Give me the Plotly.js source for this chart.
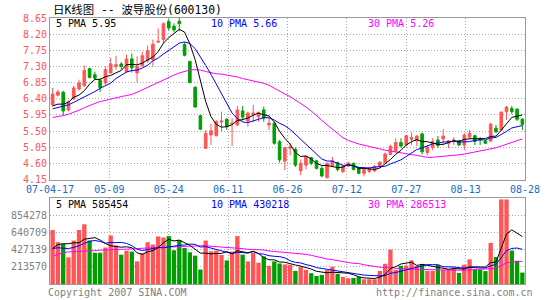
<!DOCTYPE html>
<html>
<head>
<meta charset="utf-8">
<script src="https://cdn.plot.ly/plotly-3.0.1.min.js"></script>
<style>html,body{margin:0;padding:0;background:#fff;}#chart{width:545px;height:300px;}</style>
</head>
<body>
<div id="chart"></div>
<script>
// ---- data ----
const dateTicks = ['07-04-17','05-09','05-24','06-11','06-26','07-12','07-27','08-13','08-28'];

const open  = [6.23,6.50,6.58,6.09,6.40,6.67,6.76,7.24,7.07,6.91,6.84,7.12,7.30,7.37,7.16,7.51,7.12,7.32,7.46,7.49,
               7.98,8.05,8.55,8.42,8.56,7.91,7.44,6.72,5.93,5.02,5.39,5.37,5.75,5.83,5.70,5.67,6.06,5.78,5.97,5.90,
               6.09,5.67,5.72,5.20,4.66,5.02,4.99,4.39,4.55,4.76,4.67,4.46,4.20,4.53,4.62,4.37,4.53,4.60,4.48,4.32,
               4.37,4.39,4.51,4.62,4.85,4.94,5.18,5.11,5.27,5.23,5.42,4.90,5.05,5.25,5.28,5.16,5.23,5.23,5.11,5.33,
               5.37,5.29,5.22,5.22,5.58,5.53,6.04,6.13,6.11,5.83];
const high  = [6.70,6.65,6.62,6.35,6.76,6.93,7.33,7.26,7.16,6.97,7.30,7.54,7.60,7.42,7.63,7.66,7.58,7.71,7.88,8.05,
               8.36,8.53,8.62,8.50,8.65,7.98,7.46,6.75,5.95,5.53,5.70,5.81,6.04,5.86,5.86,6.20,6.20,6.04,6.23,6.04,
               6.18,5.86,5.74,5.25,5.06,5.16,5.05,4.71,4.80,4.78,4.70,4.52,4.62,4.78,4.65,4.55,4.65,4.62,4.50,4.45,
               4.50,4.55,4.66,4.90,5.12,5.30,5.30,5.40,5.46,5.39,5.46,5.11,5.30,5.36,5.55,5.25,5.33,5.25,5.44,5.53,
               5.40,5.33,5.25,5.73,5.67,6.04,6.20,6.20,6.14,5.86];
const low   = [6.18,6.46,5.92,6.05,6.37,6.63,6.74,6.97,6.94,6.59,6.79,7.10,7.21,7.21,7.12,7.13,6.86,7.30,7.40,7.30,
               7.95,7.95,8.30,8.25,8.28,7.58,6.83,6.15,5.53,5.00,5.11,5.35,5.48,5.53,5.08,5.64,5.79,5.62,5.74,5.76,
               5.76,5.53,5.12,4.62,4.41,4.82,4.50,4.27,4.43,4.55,4.43,4.21,4.18,4.50,4.38,4.33,4.50,4.40,4.30,4.24,
               4.33,4.36,4.48,4.60,4.83,4.90,5.04,5.08,5.11,5.08,4.85,4.82,4.97,5.03,5.11,5.02,5.11,5.08,4.97,5.27,
               5.11,5.11,5.14,5.20,5.45,5.50,5.81,5.97,5.78,5.53];
const close = [6.53,6.59,6.06,6.32,6.70,6.84,7.19,6.99,6.97,6.71,7.21,7.37,7.35,7.30,7.51,7.26,7.30,7.60,7.74,7.92,
               8.00,8.49,8.37,8.32,8.49,7.61,6.85,6.17,5.55,5.44,5.51,5.76,5.78,5.62,5.72,6.09,5.89,6.00,6.00,6.02,
               5.86,5.72,5.16,4.70,5.04,5.06,4.55,4.60,4.79,4.60,4.46,4.25,4.60,4.67,4.43,4.52,4.60,4.43,4.32,4.43,
               4.46,4.51,4.63,4.86,5.07,5.18,5.08,5.37,5.32,5.36,4.92,5.05,5.21,5.10,5.36,5.23,5.25,5.11,5.39,5.44,
               5.21,5.25,5.16,5.69,5.48,6.03,6.17,6.04,5.83,5.69];
const volume = [670000,519000,498000,331000,540000,670000,741000,540000,389000,389000,
                452000,603000,477000,364000,414000,402000,281000,381000,519000,490000,
                590000,578000,595000,419000,544000,448000,394000,352000,180000,540000,
                406000,414000,360000,293000,402000,595000,364000,281000,389000,264000,
                343000,226000,281000,255000,243000,239000,163000,214000,176000,134000,
                100000,113000,172000,214000,126000,88000,71000,75000,88000,59000,
                59000,59000,163000,251000,427000,176000,226000,230000,293000,226000,
                247000,163000,163000,239000,176000,176000,205000,138000,239000,306000,
                176000,176000,160000,511000,335000,1050000,1050000,415000,289000,142000];

// moving-average values at the start of the window
const priceMa5Head  = [6.20,6.25,6.25,6.30];
const priceMa10Head = [6.12,6.16,6.20,6.23,6.30,6.37,6.45,6.53,6.60];
const priceMa30Head = [5.88,5.90,5.93,5.97,6.02,6.08,6.15,6.22,6.27,6.32,6.36,6.39,6.43,6.46,6.49,
                       6.52,6.58,6.65,6.72,6.79,6.87,6.94,6.99,7.06,7.12,7.17,7.20,7.21,7.20];
const volMa5Head  = [440000,490000,500000,500000];
const volMa10Head = [440000,450000,445000,440000,455000,475000,505000,530000,540000];
const volMa30Head = [345000,370000,390000,398000,400000,402000,405000,410000,415000,420000,
                     425000,427000,428000,430000,432000,435000,438000,442000,447000,452000,
                     455000,458000,462000,465000,468000,470000,472000,474000,475000];

const priceTicks = [4.15,4.60,5.05,5.50,5.95,6.40,6.85,7.30,7.75,8.20,8.65];
const volTickLabels = ['213570','427139','640709','854278'];

const titleText = '日K线图 -- 波导股份(600130)';
const priceLegend = ['5 PMA 5.95','10 PMA 5.66','30 PMA 5.26'];
const volLegend = ['5 PMA 585454','10 PMA 430218','30 PMA 286513'];
const footLeft = 'Copyright 2007 SINA.COM';
const footRight = 'http://finance.sina.com.cn';

// ---- drawing ----
const RED = '#ff5555', GREEN = '#009f00', DATEBLUE = '#1070c8', GRAY = '#808080';
const MONO = 'DejaVu Sans Mono, monospace';
const W = 545, H = 300;
const px = x => x / W, py = y => 1 - y / H;

function movingAvg(vals, n, head) {
  return vals.map((v, i) => {
    if (i < n - 1) return head[i];
    let s = 0; for (let k = i - n + 1; k <= i; k++) s += vals[k];
    return s / n;
  });
}
const idx = close.map((_, i) => i);
const N = idx.length;
const xRange = [-0.5, N - 0.5];
const xTickVals = dateTicks.map((_, k) => -0.5 + k * N / (dateTicks.length - 1));
const volStep = 854278 / 4;
const volTickVals = volTickLabels.map((_, k) => (k + 1) * volStep);
const volColors = close.map((c, i) => c >= open[i] ? RED : GREEN);

const traces = [
  {type:'candlestick', x: idx, open, high, low, close, xaxis:'x', yaxis:'y',
   increasing:{line:{color:RED,width:1}, fillcolor:RED},
   decreasing:{line:{color:GREEN,width:1}, fillcolor:GREEN},
   whiskerwidth:0, hoverinfo:'skip'},
  {type:'scatter', mode:'lines', x: idx, y: movingAvg(close,30,priceMa30Head), line:{color:'#ff00ff',width:1}, xaxis:'x', yaxis:'y', hoverinfo:'skip'},
  {type:'scatter', mode:'lines', x: idx, y: movingAvg(close,10,priceMa10Head), line:{color:'#0000ff',width:1}, xaxis:'x', yaxis:'y', hoverinfo:'skip'},
  {type:'scatter', mode:'lines', x: idx, y: movingAvg(close,5,priceMa5Head), line:{color:'#000000',width:1}, xaxis:'x', yaxis:'y', hoverinfo:'skip'},
  {type:'bar', x: idx, y: volume, marker:{color: volColors, line:{width:0}}, width:0.82, xaxis:'x2', yaxis:'y2', hoverinfo:'skip'},
  {type:'scatter', mode:'lines', x: idx, y: movingAvg(volume,30,volMa30Head), line:{color:'#ff00ff',width:1}, xaxis:'x2', yaxis:'y2', hoverinfo:'skip'},
  {type:'scatter', mode:'lines', x: idx, y: movingAvg(volume,10,volMa10Head), line:{color:'#0000ff',width:1}, xaxis:'x2', yaxis:'y2', hoverinfo:'skip'},
  {type:'scatter', mode:'lines', x: idx, y: movingAvg(volume,5,volMa5Head), line:{color:'#000000',width:1}, xaxis:'x2', yaxis:'y2', hoverinfo:'skip'}
];

const gridCommon = {showgrid:true, gridcolor:'#aaaaaa', griddash:'1px,2px', gridwidth:1,
  showline:true, mirror:true, linecolor:'#999999', linewidth:1, zeroline:false, ticks:'', fixedrange:true};

const ann = (text, x, y, color, opts) => Object.assign({text, x:px(x), y:py(y), xref:'paper', yref:'paper',
  xanchor:'left', yanchor:'middle', showarrow:false, font:{family:MONO, size:10, color}}, opts || {});

const layout = {
  width:W, height:H, margin:{l:0,r:0,t:0,b:0}, paper_bgcolor:'#fff', plot_bgcolor:'#fff',
  showlegend:false, bargap:0.18,
  xaxis: Object.assign({}, gridCommon, {domain:[px(50), px(525)], range:xRange, anchor:'y',
    tickmode:'array', tickvals:xTickVals, ticktext:dateTicks,
    tickfont:{family:MONO, size:10, color:DATEBLUE}, rangeslider:{visible:false}}),
  yaxis: Object.assign({}, gridCommon, {domain:[py(179.5), py(18)], range:[4.15, 8.65], anchor:'x',
    tickmode:'array', tickvals:priceTicks, ticktext:priceTicks.map(v => v.toFixed(2)),
    tickfont:{family:MONO, size:10, color:RED}}),
  xaxis2: Object.assign({}, gridCommon, {domain:[px(50), px(525)], range:xRange, anchor:'y2',
    tickmode:'array', tickvals:xTickVals, showticklabels:false}),
  yaxis2: Object.assign({}, gridCommon, {domain:[py(284), py(198)], range:[0, 5*volStep], anchor:'x2',
    tickmode:'array', tickvals:volTickVals, ticktext:volTickLabels,
    tickfont:{family:MONO, size:10, color:GRAY}}),
  annotations: [
    ann(titleText, 51, 10, '#000', {font:{family:'DejaVu Sans Mono, Noto Sans CJK SC', size:11.4, color:'#000'}}),
    ann(priceLegend[0], 54, 23.5, '#000000'),
    ann(priceLegend[1], 209, 23.5, '#0000ff'),
    ann(priceLegend[2], 366, 23.5, '#ff00ff'),
    ann(volLegend[0], 54, 204, '#000000'),
    ann(volLegend[1], 209, 204, '#0000ff'),
    ann(volLegend[2], 366, 204, '#ff00ff'),
    ann(footLeft, 46, 292, GRAY),
    ann(footRight, 374, 292, GRAY)
  ]
};

Plotly.newPlot('chart', traces, layout, {staticPlot:true, displayModeBar:false});
</script>
</body>
</html>
